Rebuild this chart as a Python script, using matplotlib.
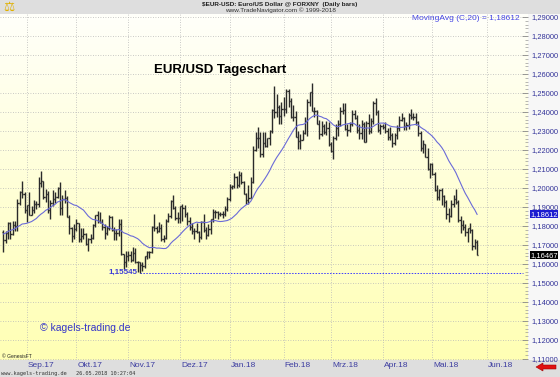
import matplotlib
matplotlib.use('Agg')
import matplotlib.pyplot as plt
import matplotlib.transforms as mtransforms
from matplotlib.patches import Rectangle, FancyArrow
from matplotlib.ticker import MultipleLocator, FuncFormatter
import numpy as np
import pandas as pd

opens = [
    1.1766, 1.1724, 1.1761, 1.1814, 1.1760, 1.1807, 1.1799, 1.1922, 1.1978, 1.1967, 1.1886,  # Aug
    1.1910, 1.1860, 1.1886, 1.1918, 1.1917, 1.2024, 1.2035, 1.1951, 1.1966, 1.1885, 1.1920,
    1.1943, 1.1953, 1.1998, 1.1893, 1.1941, 1.1949, 1.1848, 1.1790, 1.1747, 1.1784,  # Sep
    1.1814, 1.1732, 1.1746, 1.1760, 1.1705, 1.1729, 1.1739, 1.1806, 1.1860, 1.1827, 1.1821,
    1.1793, 1.1763, 1.1790, 1.1846, 1.1781, 1.1762, 1.1764, 1.1813, 1.1650, 1.1608, 1.1644,  # Okt
    1.1645, 1.1620, 1.1656, 1.1608, 1.1609, 1.1595, 1.1591, 1.1640, 1.1665, 1.1663, 1.1794,
    1.1790, 1.1772, 1.1790, 1.1734, 1.1738, 1.1825, 1.1853, 1.1933, 1.1896, 1.1843, 1.1844,  # Nov
    1.1903, 1.1897, 1.1865, 1.1826, 1.1794, 1.1772, 1.1774, 1.1767, 1.1743, 1.1822, 1.1777,
    1.1751, 1.1782, 1.1837, 1.1874, 1.1872, 1.1861, 1.1865, 1.1861, 1.1891, 1.1943,  # Dez
    1.2005, 1.2010, 1.2057, 1.2014, 1.2068, 1.2029, 1.1967, 1.1936, 1.1948, 1.2034, 1.2198,
    1.2264, 1.2262, 1.2180, 1.2239, 1.2222, 1.2262, 1.2298, 1.2408, 1.2398, 1.2426, 1.2378, 1.2416,  # Jan
    1.2414, 1.2512, 1.2460, 1.2372, 1.2376, 1.2268, 1.2248, 1.2253, 1.2291, 1.2355,
    1.2450, 1.2506, 1.2405, 1.2407, 1.2339, 1.2286, 1.2327, 1.2295, 1.2318, 1.2230,  # Feb
    1.2194, 1.2265, 1.2318, 1.2337, 1.2405, 1.2411, 1.2312, 1.2307, 1.2336, 1.2391, 1.2367,
    1.2306, 1.2288, 1.2337, 1.2241, 1.2344, 1.2302, 1.2351, 1.2446, 1.2402, 1.2307, 1.2324,  # Mrz
    1.2320, 1.2300, 1.2271, 1.2280, 1.2238, 1.2281, 1.2318, 1.2360, 1.2367, 1.2328, 1.2330,
    1.2382, 1.2374, 1.2375, 1.2346, 1.2288, 1.2211, 1.2232, 1.2163, 1.2102, 1.2128,  # Apr
    1.2075, 1.1992, 1.1950, 1.1988, 1.1960, 1.1924, 1.1864, 1.1850, 1.1917, 1.1942,
    1.1928, 1.1834, 1.1807, 1.1795, 1.1771, 1.1790, 1.1780, 1.1693, 1.1718,  # Mai
]
highs = [
    1.1780, 1.1775, 1.1823, 1.1822, 1.1825, 1.1828, 1.1940, 1.1983, 1.2035, 1.1977, 1.1910,
    1.1980, 1.1905, 1.1939, 1.1932, 1.2058, 1.2092, 1.2036, 1.1995, 1.1982, 1.1937, 1.1988,
    1.1980, 1.2007, 1.2034, 1.1961, 1.1990, 1.1958, 1.1860, 1.1793, 1.1808, 1.1836,
    1.1815, 1.1787, 1.1787, 1.1762, 1.1735, 1.1760, 1.1811, 1.1860, 1.1880, 1.1872, 1.1836,
    1.1808, 1.1800, 1.1860, 1.1852, 1.1793, 1.1785, 1.1836, 1.1837, 1.1654, 1.1668, 1.1666,
    1.1669, 1.1688, 1.1685, 1.1615, 1.1611, 1.1610, 1.1642, 1.1670, 1.1668, 1.1798, 1.1862,
    1.1800, 1.1822, 1.1808, 1.1755, 1.1835, 1.1866, 1.1939, 1.1961, 1.1903, 1.1875, 1.1905,
    1.1915, 1.1909, 1.1875, 1.1845, 1.1814, 1.1788, 1.1818, 1.1775, 1.1828, 1.1863, 1.1795,
    1.1810, 1.1838, 1.1887, 1.1885, 1.1880, 1.1873, 1.1878, 1.1903, 1.1955, 1.2023,
    1.2017, 1.2081, 1.2065, 1.2089, 1.2083, 1.2036, 1.1972, 1.2018, 1.2058, 1.2219, 1.2296,
    1.2323, 1.2296, 1.2293, 1.2296, 1.2264, 1.2307, 1.2414, 1.2537, 1.2493, 1.2437, 1.2455, 1.2477,
    1.2521, 1.2520, 1.2475, 1.2437, 1.2404, 1.2298, 1.2284, 1.2307, 1.2374, 1.2468,
    1.2507, 1.2555, 1.2428, 1.2411, 1.2360, 1.2355, 1.2337, 1.2353, 1.2347, 1.2244,
    1.2273, 1.2335, 1.2356, 1.2427, 1.2447, 1.2446, 1.2336, 1.2348, 1.2413, 1.2409, 1.2383,
    1.2338, 1.2358, 1.2345, 1.2355, 1.2388, 1.2369, 1.2456, 1.2476, 1.2408, 1.2336, 1.2337,
    1.2346, 1.2315, 1.2321, 1.2292, 1.2292, 1.2334, 1.2380, 1.2396, 1.2376, 1.2345, 1.2395,
    1.2414, 1.2397, 1.2396, 1.2353, 1.2298, 1.2253, 1.2234, 1.2210, 1.2134, 1.2131,
    1.2084, 1.2017, 1.1994, 1.1998, 1.1962, 1.1938, 1.1895, 1.1938, 1.1963, 1.1997,
    1.1939, 1.1852, 1.1833, 1.1812, 1.1791, 1.1815, 1.1784, 1.1734, 1.1726,
]
lows = [
    1.1662, 1.1711, 1.1731, 1.1734, 1.1753, 1.1776, 1.1772, 1.1908, 1.1949, 1.1866, 1.1823,
    1.1858, 1.1856, 1.1867, 1.1890, 1.1899, 1.2005, 1.1943, 1.1925, 1.1868, 1.1837, 1.1906,
    1.1923, 1.1948, 1.1860, 1.1860, 1.1919, 1.1845, 1.1760, 1.1717, 1.1731, 1.1773,
    1.1717, 1.1715, 1.1730, 1.1700, 1.1669, 1.1709, 1.1729, 1.1795, 1.1814, 1.1815, 1.1777,
    1.1730, 1.1753, 1.1778, 1.1773, 1.1725, 1.1727, 1.1748, 1.1645, 1.1574, 1.1583, 1.1617,
    1.1610, 1.1615, 1.1606, 1.1556, 1.15545, 1.1561, 1.1581, 1.1627, 1.1633, 1.1657, 1.1776,
    1.1761, 1.1766, 1.1722, 1.1716, 1.1730, 1.1822, 1.1842, 1.1891, 1.1834, 1.1818, 1.1818,
    1.1824, 1.1848, 1.1803, 1.1781, 1.1760, 1.1733, 1.1761, 1.1718, 1.1732, 1.1767, 1.1729,
    1.1749, 1.1759, 1.1823, 1.1840, 1.1838, 1.1852, 1.1841, 1.1852, 1.1881, 1.1929,
    1.1995, 1.2001, 1.2000, 1.2006, 1.2022, 1.1966, 1.1915, 1.1916, 1.1945, 1.2027, 1.2196,
    1.2212, 1.2165, 1.2165, 1.2214, 1.2215, 1.2227, 1.2291, 1.2368, 1.2373, 1.2335, 1.2338, 1.2380,
    1.2396, 1.2424, 1.2371, 1.2355, 1.2267, 1.2205, 1.2206, 1.2251, 1.2285, 1.2275,
    1.2432, 1.2403, 1.2373, 1.2337, 1.2260, 1.2276, 1.2285, 1.2281, 1.2219, 1.2188,
    1.2154, 1.2255, 1.2276, 1.2328, 1.2390, 1.2306, 1.2272, 1.2295, 1.2325, 1.2362, 1.2289,
    1.2259, 1.2259, 1.2240, 1.2240, 1.2282, 1.2292, 1.2339, 1.2385, 1.2296, 1.2283, 1.2310,
    1.2288, 1.2255, 1.2253, 1.2215, 1.2227, 1.2256, 1.2302, 1.2354, 1.2305, 1.2304, 1.2313,
    1.2363, 1.2360, 1.2330, 1.2272, 1.2197, 1.2184, 1.2161, 1.2095, 1.2055, 1.2071,
    1.1983, 1.1938, 1.1937, 1.1910, 1.1899, 1.1838, 1.1823, 1.1845, 1.1902, 1.1915,
    1.1819, 1.1763, 1.1780, 1.1747, 1.1717, 1.1762, 1.1676, 1.1678, 1.1645,
]
closes = [
    1.1724, 1.1761, 1.1814, 1.1760, 1.1807, 1.1799, 1.1922, 1.1978, 1.1967, 1.1886, 1.1910,
    1.1860, 1.1886, 1.1918, 1.1917, 1.2024, 1.2035, 1.1951, 1.1966, 1.1885, 1.1920, 1.1943,
    1.1953, 1.1998, 1.1893, 1.1941, 1.1949, 1.1848, 1.1790, 1.1747, 1.1784, 1.1814,
    1.1732, 1.1746, 1.1760, 1.1705, 1.1729, 1.1739, 1.1806, 1.1860, 1.1827, 1.1821, 1.1793,
    1.1763, 1.1790, 1.1846, 1.1781, 1.1762, 1.1764, 1.1813, 1.1650, 1.1608, 1.1644, 1.1645,
    1.1620, 1.1656, 1.1608, 1.1609, 1.1595, 1.1591, 1.1640, 1.1665, 1.1663, 1.1794, 1.1790,
    1.1772, 1.1790, 1.1734, 1.1738, 1.1825, 1.1853, 1.1933, 1.1896, 1.1843, 1.1844, 1.1903,
    1.1897, 1.1865, 1.1826, 1.1794, 1.1772, 1.1774, 1.1767, 1.1743, 1.1822, 1.1777, 1.1751,
    1.1782, 1.1837, 1.1874, 1.1872, 1.1861, 1.1865, 1.1861, 1.1891, 1.1943, 1.2005,
    1.2010, 1.2057, 1.2014, 1.2068, 1.2029, 1.1967, 1.1936, 1.1948, 1.2034, 1.2198, 1.2264,
    1.2262, 1.2180, 1.2239, 1.2222, 1.2262, 1.2298, 1.2408, 1.2398, 1.2426, 1.2378, 1.2416, 1.2414,
    1.2512, 1.2460, 1.2372, 1.2376, 1.2268, 1.2248, 1.2253, 1.2291, 1.2355, 1.2450,
    1.2506, 1.2405, 1.2407, 1.2339, 1.2286, 1.2327, 1.2295, 1.2318, 1.2230, 1.2194,
    1.2265, 1.2318, 1.2337, 1.2405, 1.2411, 1.2312, 1.2307, 1.2336, 1.2391, 1.2367, 1.2306,
    1.2288, 1.2337, 1.2241, 1.2344, 1.2302, 1.2351, 1.2446, 1.2402, 1.2307, 1.2324, 1.2320,
    1.2300, 1.2271, 1.2280, 1.2238, 1.2281, 1.2318, 1.2360, 1.2367, 1.2328, 1.2330, 1.2382,
    1.2374, 1.2375, 1.2346, 1.2288, 1.2211, 1.2232, 1.2163, 1.2102, 1.2128, 1.2075,
    1.1992, 1.1950, 1.1988, 1.1960, 1.1924, 1.1864, 1.1850, 1.1917, 1.1942, 1.1928,
    1.1834, 1.1807, 1.1795, 1.1771, 1.1790, 1.1780, 1.1693, 1.1718, 1.16467,
]
# 19 Schlusskurse vor Chartbeginn, nur fuer den Anlauf des GD20
warmup_closes = [1.1665, 1.1642, 1.1649, 1.1734, 1.1677, 1.1749, 1.1837, 1.1802, 1.1860, 1.1860,
                 1.1774, 1.1792, 1.1752, 1.1762, 1.1770, 1.1822, 1.1782, 1.1735, 1.1770]

month_labels = ['Sep.17', 'Okt.17', 'Nov.17', 'Dez.17', 'Jan.18',
                'Feb.18', 'Mrz.18', 'Apr.18', 'Mai.18', 'Jun.18']
first_day = '2017-08-17'
grid_end = '2018-06-01'
ma_period = 20

assert len(opens) == len(highs) == len(lows) == len(closes)

plt.rcParams['font.family'] = ['Liberation Sans', 'DejaVu Sans']

def de_fmt(v):
    return f"{v:.5f}".replace('.', ',')

n = len(closes)
x = np.arange(n)
ma = pd.Series(warmup_closes + closes).rolling(ma_period).mean().iloc[len(warmup_closes):].to_numpy()

# Monatsraster: Position des letzten Balkens im Vormonat
days = pd.bdate_range(first_day, grid_end)
per = days.to_period('M')
month_pos = [i - 1 for i in range(1, len(days)) if per[i] != per[i - 1]]

fig = plt.figure(figsize=(5.6, 3.77), dpi=100, facecolor='#dedede')
W, H = 560, 377
# heller Streifen hinter der Preisskala
fig.patches.append(Rectangle((528 / W, 17 / H), 32 / W, 346 / H, transform=fig.transFigure,
                             facecolor='#f7f7f7', edgecolor='none', zorder=-1))
ax = fig.add_axes([0, 17 / H, 528 / W, 346 / H])

xlim = (-1.4, 222.6)
ylim = (1.10947, 1.29158)
ax.set_xlim(*xlim)
ax.set_ylim(*ylim)

# gelblicher Verlauf im Hintergrund
t = np.linspace(0, 1, 256)[:, None]
top = np.array([255, 255, 250]) / 255
bot = np.array([255, 255, 180]) / 255
img = (top * (1 - t) + bot * t)[:, None, :]
ax.imshow(img, extent=[xlim[0], xlim[1], ylim[0], ylim[1]], aspect='auto', origin='upper', zorder=0)

for lvl in np.arange(1.11, 1.2901, 0.01):
    ax.axhline(lvl, color='#b8b8b8', lw=0.6, ls=(0, (1, 2)), zorder=1)
for p in month_pos:
    ax.axvline(p, color='#b8b8b8', lw=0.6, ls=(0, (1, 2)), zorder=1)

bar_col = '#2a2a2a'
ax.vlines(x, lows, highs, color=bar_col, lw=1.0, zorder=3)
ax.hlines(opens, x - 0.5, x, color=bar_col, lw=1.0, zorder=3)
ax.hlines(closes, x, x + 0.5, color=bar_col, lw=1.0, zorder=3)

ax.plot(x, ma, color='#6a6ad8', lw=0.8, zorder=4)

# Tief markieren
low_i = int(np.argmin(lows))
low_v = lows[low_i]
ax.hlines(low_v, low_i, 220.5, color='#3a3aff', lw=0.7, ls=(0, (1.5, 1.5)), zorder=2)
ax.text(low_i - 1, low_v, de_fmt(low_v), color='#3a3ad8', fontsize=5.8, fontweight='bold',
        ha='right', va='center', zorder=5)

for s in ax.spines.values():
    s.set_visible(False)
ax.set_xticks([])
ax.yaxis.tick_right()
ax.yaxis.set_major_locator(MultipleLocator(0.01))
ax.yaxis.set_minor_locator(MultipleLocator(0.002))
ax.yaxis.set_major_formatter(FuncFormatter(lambda v, p: de_fmt(v)))
ax.tick_params(axis='y', which='major', direction='in', length=4, width=0.6, color='#888888', pad=2.5,
               labelsize=5.4, labelcolor='#333399')
ax.tick_params(axis='y', which='minor', direction='in', length=2, width=0.5, color='#999999')

yx = mtransforms.blended_transform_factory(ax.transAxes, ax.transData)
ax.text(1.004, ma[-1], de_fmt(ma[-1]), transform=yx, color='white', fontsize=5.4,
        ha='left', va='center', bbox=dict(boxstyle='square,pad=0.08', fc='#1c1cd0', ec='none'),
        zorder=6, clip_on=False)
ax.text(1.004, closes[-1], de_fmt(closes[-1]), transform=yx, color='white', fontsize=5.4,
        ha='left', va='center', bbox=dict(boxstyle='square,pad=0.08', fc='black', ec='none'),
        zorder=6, clip_on=False)

xy = mtransforms.blended_transform_factory(ax.transData, ax.transAxes)
for p, lab in zip(month_pos, month_labels):
    ax.text(p + 0.4, -0.015, lab, transform=xy, ha='left', va='center', fontsize=6,
            color='#3c3ca0', clip_on=False)

fig.text(220 / W, 1 - 70 / H, 'EUR/USD Tageschart', fontsize=9.5, fontweight='bold', ha='center', va='center')
fig.text(520 / W, 1 - 19 / H, f'MovingAvg (C,{ma_period}) = {de_fmt(ma[-1])}', fontsize=6,
         color='#4444e4', ha='right', va='center')
fig.text(280 / W, 1 - 4.5 / H, '$EUR-USD: Euro/US Dollar @ FORXNY  (Daily bars)', fontsize=4.6,
         fontweight='bold', ha='center', va='center', color='#222222')
fig.text(280 / W, 1 - 10.5 / H, 'www.TradeNavigator.com \u00a9 1999-2018', fontsize=4.6,
         ha='center', va='center', color='#333333')
fig.text(40 / W, 1 - 328 / H, '\u00a9 kagels-trading.de', fontsize=7.5, color='#3535c8',
         ha='left', va='center')
fig.text(2 / W, 1 - 357 / H, '\u00a9 GenesisFT', fontsize=3.6, color='#222222', ha='left', va='center')
fig.text(1 / W, 1 - 373 / H, 'www.kagels-trading.de   26.05.2018 10:27:04', fontsize=3.8,
         family='DejaVu Sans Mono', color='#333333', ha='left', va='center')
fig.text(9 / W, 1 - 7 / H, '\u2696', fontsize=9, color='#e0b000', family='DejaVu Sans',
         ha='center', va='center')

fig.patches.append(FancyArrow(556 / W, 1 - 367 / H, -20 / W, 0, width=4 / H, head_width=8 / H,
                              head_length=7 / W, length_includes_head=True, transform=fig.transFigure,
                              facecolor='#e01010', edgecolor='#a00000', lw=0.4))

fig.savefig('out.png', dpi=100, facecolor=fig.get_facecolor())
